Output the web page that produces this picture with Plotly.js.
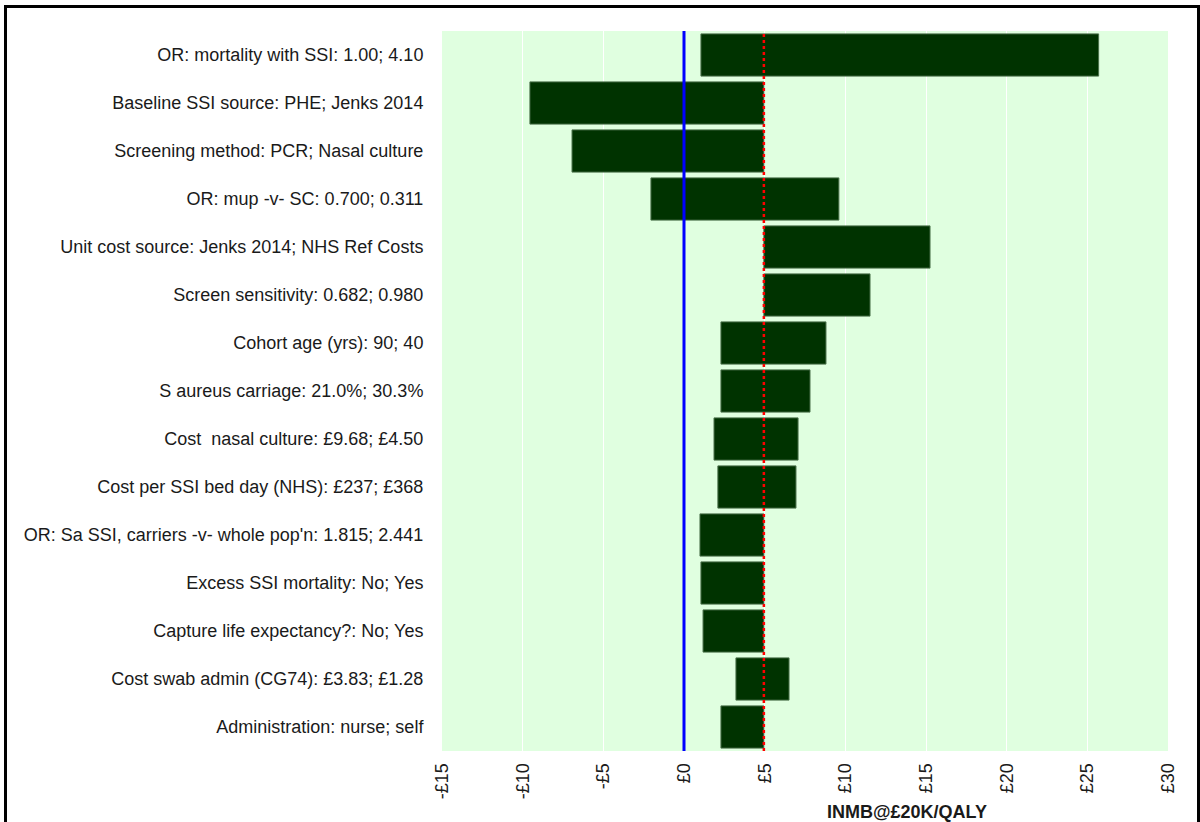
<!DOCTYPE html>
<html>
<head>
<meta charset="utf-8">
<script src="https://cdn.plot.ly/plotly-3.0.1.min.js"></script>
<style>
html,body{margin:0;padding:0;background:#fff;overflow:hidden;}
#chart{width:1200px;height:822px;}
#frame{position:absolute;left:4px;top:5px;width:1190px;height:840px;border:3px solid #000;pointer-events:none;}
</style>
</head>
<body>
<div id="chart"></div>
<div id="frame"></div>
<script>
const categories = [
  "OR: mortality with SSI: 1.00; 4.10",
  "Baseline SSI source: PHE; Jenks 2014",
  "Screening method: PCR; Nasal culture",
  "OR: mup -v- SC: 0.700; 0.311",
  "Unit cost source: Jenks 2014; NHS Ref Costs",
  "Screen sensitivity: 0.682; 0.980",
  "Cohort age (yrs): 90; 40",
  "S aureus carriage: 21.0%; 30.3%",
  "Cost  nasal culture: £9.68; £4.50",
  "Cost per SSI bed day (NHS): £237; £368",
  "OR: Sa SSI, carriers -v- whole pop'n: 1.815; 2.441",
  "Excess SSI mortality: No; Yes",
  "Capture life expectancy?: No; Yes",
  "Cost swab admin (CG74): £3.83; £1.28",
  "Administration: nurse; self"
];
const lowValues  = [1.05, -9.55, -6.94, -2.05, 4.95, 4.95, 2.29, 2.29, 1.86, 2.10, 0.99, 1.05, 1.18, 3.22, 2.29];
const highValues = [25.7, 4.95, 4.95, 9.60, 15.25, 11.53, 8.80, 7.81, 7.07, 6.94, 4.95, 4.95, 4.95, 6.51, 4.95];
const baseCase = 4.95;
const tickValues = [-15, -10, -5, 0, 5, 10, 15, 20, 25, 30];
const tickLabels = ["-£15", "-£10", "-£5", "£0", "£5", "£10", "£15", "£20", "£25", "£30"];

const widths = highValues.map((h, i) => h - lowValues[i]);

const trace = {
  type: 'bar',
  orientation: 'h',
  y: categories,
  x: widths,
  base: lowValues,
  marker: {color: '#003300', line: {color: '#4a704a', width: 1}},
  hoverinfo: 'none'
};

const layout = {
  width: 1200, height: 822,
  margin: {l: 442, r: 32, t: 31, b: 71},
  paper_bgcolor: '#ffffff',
  plot_bgcolor: '#e0ffe0',
  font: {family: 'Liberation Sans, Arial, sans-serif', size: 18, color: '#1a1a1a'},
  bargap: 0.12,
  showlegend: false,
  xaxis: {
    range: [-15, 30],
    tickvals: tickValues,
    ticktext: tickLabels,
    tickangle: -90,
    showgrid: true,
    gridcolor: '#ffffff',
    gridwidth: 1,
    zeroline: false,
    showline: false,
    ticks: 'outside', ticklen: 4, tickcolor: 'rgba(0,0,0,0)',
    tickfont: {size: 18}
  },
  yaxis: {
    type: 'category',
    autorange: 'reversed',
    showgrid: false,
    zeroline: false,
    showline: false,
    ticks: 'outside', ticklen: 14, tickcolor: 'rgba(0,0,0,0)',
    tickfont: {size: 18}
  },
  shapes: [
    {type: 'line', xref: 'x', yref: 'paper', x0: 0, x1: 0, y0: 0, y1: 1,
     line: {color: '#0000ff', width: 3}},
    {type: 'line', xref: 'x', yref: 'paper', x0: baseCase, x1: baseCase, y0: 0, y1: 1,
     line: {color: '#ff0000', width: 2.5, dash: 'dot'}}
  ],
  annotations: [
    {text: '<b>INMB@£20K/QALY</b>', xref: 'paper', yref: 'paper', x: 0.64, y: 0,
     yshift: -61, xanchor: 'center', yanchor: 'middle', showarrow: false,
     font: {size: 18, color: '#1a1a1a'}}
  ]
};

Plotly.newPlot('chart', [trace], layout, {displayModeBar: false, staticPlot: true});
</script>
</body>
</html>
